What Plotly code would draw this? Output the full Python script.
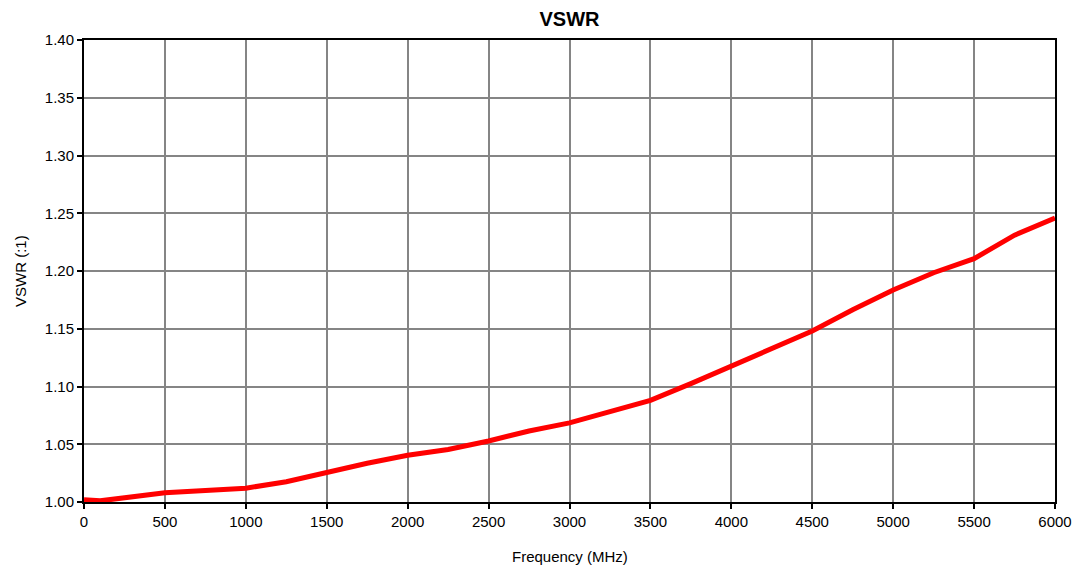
import plotly.graph_objects as go

freq_mhz = [0, 100, 500, 750, 1000, 1250, 1500, 1750, 2000, 2250, 2500, 2750,
            3000, 3250, 3500, 3750, 4000, 4250, 4500, 4750, 5000, 5250, 5500, 5750, 6000]
vswr = [1.002, 1.001, 1.008, 1.0095, 1.012, 1.0175, 1.026, 1.0335, 1.0405, 1.0455, 1.0528, 1.0615,
        1.0685, 1.078, 1.088, 1.1025, 1.1175, 1.133, 1.148, 1.1665, 1.1835, 1.1985, 1.2107, 1.231, 1.2458]

x_ticks = [0, 500, 1000, 1500, 2000, 2500, 3000, 3500, 4000, 4500, 5000, 5500, 6000]
y_ticks = [1.00, 1.05, 1.10, 1.15, 1.20, 1.25, 1.30, 1.35, 1.40]

W, H = 1075, 569
ML, MR, MT, MB = 84, 20, 40, 67

fig = go.Figure()
fig.add_trace(go.Scatter(x=freq_mhz, y=vswr, mode="lines",
                         line=dict(color="#ff0000", width=5), showlegend=False))

font_family = "Liberation Sans, Arial, sans-serif"
fig.update_layout(
    width=W, height=H,
    margin=dict(l=ML, r=MR, t=MT, b=MB, autoexpand=False),
    paper_bgcolor="white", plot_bgcolor="white",
    font=dict(family=font_family, size=15, color="black"),
    title=dict(text="<b>VSWR</b>", x=(ML + (W - MR)) / 2 / W, xanchor="center",
               y=1 - 19 / H, yanchor="middle",
               font=dict(family=font_family, size=20, color="black")),
    xaxis=dict(range=[0, 6000], tickvals=x_ticks, ticktext=[str(v) for v in x_ticks],
               showgrid=True, gridcolor="#858585", gridwidth=1.5,
               showline=True, linecolor="black", linewidth=2, mirror=True,
               ticks="outside", ticklen=5, tickwidth=2, tickcolor="black",
               zeroline=False, tickfont=dict(size=15), automargin=False,
               ticklabeloverflow="allow"),
    yaxis=dict(range=[1.0, 1.4], tickvals=y_ticks, ticktext=[f"{v:.2f}" for v in y_ticks],
               showgrid=True, gridcolor="#858585", gridwidth=1.5,
               showline=True, linecolor="black", linewidth=2, mirror=True,
               ticks="outside", ticklen=5, tickwidth=2, tickcolor="black",
               zeroline=False, tickfont=dict(size=15), automargin=False,
               ticklabeloverflow="allow"),
    annotations=[
        dict(text="Frequency (MHz)", xref="paper", yref="paper", x=0.5, y=0,
             xanchor="center", yanchor="middle", yshift=-54, showarrow=False,
             font=dict(size=15)),
        dict(text="VSWR (:1)", xref="paper", yref="paper", x=0, y=0.5,
             xanchor="center", yanchor="middle", xshift=-64, textangle=-90,
             showarrow=False, font=dict(size=15)),
    ],
)

fig.write_html("out.html",
               config={"displayModeBar": False},
               post_script="document.body.style.margin='0';document.body.style.overflow='hidden';")
